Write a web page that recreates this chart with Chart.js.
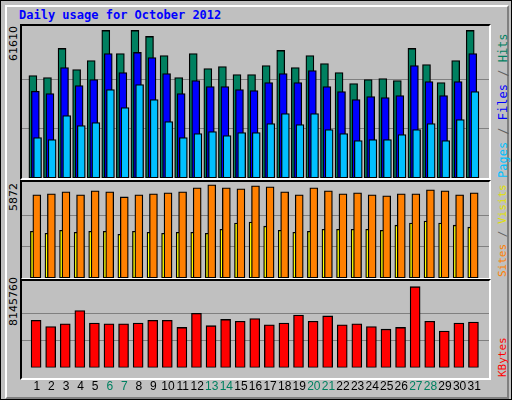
<!DOCTYPE html>
<html><head><meta charset="utf-8">
<script src="https://cdn.jsdelivr.net/npm/chart.js@4/dist/chart.umd.min.js"></script>
<style>
body{margin:0;width:512px;height:400px;background:#c0c0c0;overflow:hidden;font-family:"DejaVu Sans Mono",monospace}
#frame{position:absolute;left:0;top:0;width:510px;height:398px;border:1px solid #000;background:#c0c0c0}
#inner{position:absolute;left:4px;top:4px;width:500px;height:390px;border-top:2px solid #fff;border-left:2px solid #fff;border-right:2px solid #808080;border-bottom:2px solid #808080}
.panel{position:absolute;left:20px;width:467px;background:#c0c0c0;border-top:2px solid #000;border-left:2px solid #000;border-right:2px solid #fff;border-bottom:2px solid #fff}
.panel canvas{position:absolute;left:0;top:0}
#title{position:absolute;left:19px;top:8px;color:#0000ff;font-weight:bold;font-size:12px}
.rot{position:absolute;transform-origin:0 0;transform:rotate(-90deg);white-space:nowrap;font-size:12px}
.yl{font-family:"DejaVu Sans",sans-serif;font-size:11px;color:#000}
</style></head><body>
<div id="frame"><div id="inner"></div></div>
<div id="title">Daily usage for October 2012</div>
<div class="panel" style="top:24px;height:152px"><canvas id="c1"></canvas></div>
<div class="panel" style="top:180px;height:96px"><canvas id="c2"></canvas></div>
<div class="panel" style="top:279px;height:97px"></div>
<div style="position:absolute;left:22px;top:281px;width:467px;height:117px"><canvas id="c3"></canvas></div>
<div class="rot yl" style="left:7px;top:61px">61610</div>
<div class="rot yl" style="left:7px;top:211px">5872</div>
<div class="rot yl" style="left:7px;top:326px">8145760</div>
<div class="rot" style="left:496px;top:178px"><span style="color:#00c0ff">Pages</span> <span style="color:#606060">/</span> <span style="color:#0000ff">Files</span> <span style="color:#606060">/</span> <span style="color:#008060">Hits</span></div>
<div class="rot" style="left:496px;top:277px;font-size:11px"><span style="color:#ff8000">Sites</span> <span style="color:#606060">/</span> <span style="color:#e0e000">Visits</span></div>
<div class="rot" style="left:496px;top:377px;font-size:11px"><span style="color:#ff0000">KBytes</span></div>
<script>
const days=[1,2,3,4,5,6,7,8,9,10,11,12,13,14,15,16,17,18,19,20,21,22,23,24,25,26,27,28,29,30,31];
const weekend=[6,7,13,14,20,21,27,28];
const hits=[42796,41959,54087,45305,49069,61610,51996,61610,59106,51160,41959,51996,45723,46560,43214,43214,46978,53251,46141,51160,47814,44050,39450,41123,41541,40705,54087,47396,39868,49069,61610];
const files=[36244,35268,46141,38614,41123,51996,44050,52414,50323,43632,35268,40705,38196,38196,36941,36523,39868,43632,39868,44887,38196,36105,32759,34014,33595,34432,46978,40287,34432,40287,51996];
const pages=[16867,16031,26068,21886,23140,36941,29413,39032,32759,23559,16867,18540,19377,17704,18958,18958,22722,26904,22304,26904,20213,18540,15613,16031,16031,18122,20213,22722,15613,24395,36105];
const sites=[5236,5300,5427,5236,5491,5427,5109,5236,5300,5364,5427,5682,5872,5682,5618,5809,5745,5427,5236,5682,5491,5300,5364,5236,5173,5300,5300,5554,5491,5236,5364];
const visits=[2947,2820,3010,2883,2947,2947,2756,2947,2883,2820,2883,2883,2820,3074,3456,3519,3265,3010,2883,2947,3074,3074,3074,3074,3010,3328,3456,3583,3456,3328,3201];
const kbytes=[4756640,4132331,4399892,5737697,4489079,4399892,4399892,4489079,4756640,4756640,4043144,5470136,4221518,4845827,4667453,4935014,4310705,4489079,5291762,4667453,5202575,4310705,4399892,4132331,3864770,4043144,8145760,4667453,3686396,4489079,4578266];
const maxLabels=[61610,5872,8145760];

Chart.defaults.animation=false;
function ds(vals,off,color,w,order){return{data:vals.map((v,i)=>({x:days[i]+off,y:v})),order,backgroundColor:color,borderColor:'#000',borderWidth:1.3,barThickness:w,grouped:false,borderSkipped:false};}
function yScale(max,top){return{min:0,max:max*top,display:true,border:{display:false},ticks:{display:false},
 afterBuildTicks:s=>{s.ticks=[{value:max/3},{value:2*max/3}];},grid:{color:'#808080',lineWidth:1,drawTicks:false}};}
function xScale(show){return{type:'linear',min:0.5,max:31.5,display:show,border:{display:false},grid:{display:false},
 afterBuildTicks:s=>{s.ticks=days.map(d=>({value:d}));},
 ticks:{display:show,padding:4,autoSkip:false,maxRotation:0,font:{family:'Liberation Sans',size:12},
  color:c=>weekend.includes(c.tick.value)?'#008060':'#000'}};}
function mk(id,w,h,datasets,max,top,showX){
 const cv=document.getElementById(id);cv.width=w;cv.height=h;cv.style.width=w+'px';cv.style.height=h+'px';
 new Chart(cv,{type:'bar',data:{datasets},options:{responsive:false,layout:{padding:0},
  plugins:{legend:{display:false},tooltip:{enabled:false}},scales:{x:xScale(showX),y:yScale(max,top)}}});
}
mk('c1',467,152,[ds(hits,-0.27,'#008060',8,3),ds(files,-0.1,'#0000ff',8,2),ds(pages,0.05,'#00c0ff',8,1)],maxLabels[0],1.03,false);
mk('c2',467,96,[ds(visits,-0.27,'#ffff00',5,2),ds(sites,0.0,'#ff8000',8,1)],maxLabels[1],1.03,false);
mk('c3',467,117,[ds(kbytes,-0.05,'#ff0000',10,1)],maxLabels[2],1.07,true);
</script>
</body></html>
